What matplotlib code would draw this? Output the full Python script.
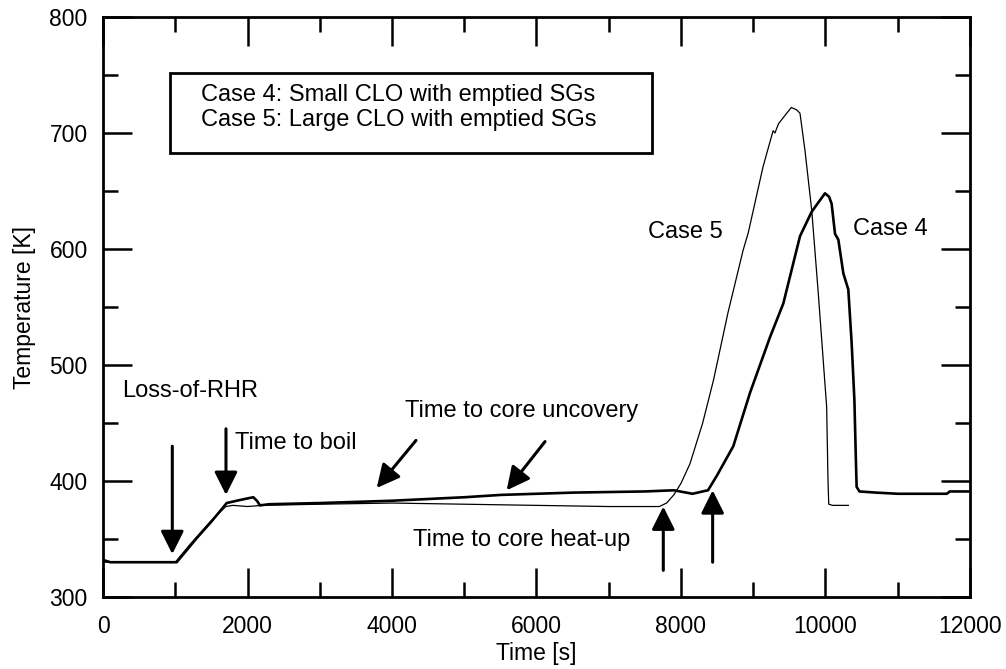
import matplotlib
matplotlib.use("Agg")
import matplotlib.pyplot as plt
from matplotlib.ticker import MultipleLocator
from matplotlib.patches import Rectangle

plt.rcParams['font.family'] = ['Liberation Sans', 'DejaVu Sans']

# Case 4: Small CLO with emptied SGs (thick line)
t_case4 = [0, 100, 500, 1020, 1300, 1500, 1712, 1850, 2000, 2080, 2130, 2173, 2300,
           3000, 4000, 5000, 5500, 6500, 7500, 7900, 8160, 8300, 8374, 8500, 8724,
           8955, 9232, 9416, 9647, 9808, 9900, 9993, 10050, 10085, 10132, 10178,
           10247, 10316, 10362, 10400, 10420, 10431, 10470, 10700, 11000, 11300,
           11500, 11680, 11720, 12000]
T_case4 = [332, 330, 330, 330, 351, 365, 381, 383, 385, 386, 383, 379, 380,
           381, 383, 386, 388, 390, 391, 392, 389, 391, 392, 405, 430,
           476, 524, 553, 611, 632, 640, 648, 645, 639, 613, 608,
           579, 565, 519, 470, 420, 395, 391, 390, 389, 389,
           389, 389, 391, 391]

# Case 5: Large CLO with emptied SGs (thin line)
t_case5 = [0, 500, 1000, 1200, 1500, 1700, 1800, 2000, 2200, 3000, 4000, 5000,
           6000, 7000, 7700, 7800, 7900, 8000, 8125, 8300, 8450, 8650, 8860, 8931,
           9136, 9275, 9300, 9350, 9450, 9527, 9600, 9647, 9716, 9810, 9900, 10016,
           10035, 10045, 10100, 10316]
T_case5 = [330, 330, 330, 345, 366, 378, 379, 378, 379, 380, 381, 380,
           379, 378, 378, 381, 388, 398, 415, 450, 487, 545, 599, 614,
           671, 702, 700, 708, 716, 722, 720, 717, 685, 633, 562, 464,
           400, 380, 379, 379]

legend_lines = ["Case 4: Small CLO with emptied SGs",
                "Case 5: Large CLO with emptied SGs"]

fig = plt.figure(figsize=(10.06, 6.69), dpi=100)
ax = fig.add_axes([0.1024, 0.1076, 0.8618, 0.867])

ax.plot(t_case4, T_case4, color='black', lw=1.9)
ax.plot(t_case5, T_case5, color='black', lw=0.9)

ax.set_xlim(0, 12000)
ax.set_ylim(300, 800)
ax.xaxis.set_major_locator(MultipleLocator(2000))
ax.xaxis.set_minor_locator(MultipleLocator(1000))
ax.yaxis.set_major_locator(MultipleLocator(100))
ax.yaxis.set_minor_locator(MultipleLocator(50))
ax.tick_params(which='both', direction='in', top=True, right=True, width=1.8,
               labelsize=16.5)
ax.tick_params(axis='x', which='both', pad=13)
ax.tick_params(axis='y', which='both', pad=11)
ax.tick_params(which='major', length=21)
ax.tick_params(which='minor', length=11)
for s in ax.spines.values():
    s.set_linewidth(2)

ax.set_xlabel("Time [s]", fontsize=16.5, labelpad=3)
ax.set_ylabel("Temperature [K]", fontsize=16.5, labelpad=10)

# legend-like box
ax.add_patch(Rectangle((927, 682.5), 7594 - 927, 751.5 - 682.5, fill=False,
                       lw=2, ec='black'))
fs = 17
ax.text(1360, 732.5, legend_lines[0], fontsize=fs, va='center', ha='left')
ax.text(1360, 711.5, legend_lines[1], fontsize=fs, va='center', ha='left')

ax.text(270, 478, "Loss-of-RHR", fontsize=fs, va='center', ha='left')
ax.text(1830, 433, "Time to boil", fontsize=fs, va='center', ha='left')
ax.text(4180, 460, "Time to core uncovery", fontsize=fs, va='center', ha='left')
ax.text(4290, 349, "Time to core heat-up", fontsize=fs, va='center', ha='left')
ax.text(7545, 615, "Case 5", fontsize=fs, va='center', ha='left')
ax.text(10385, 617, "Case 4", fontsize=fs, va='center', ha='left')

ap = dict(arrowstyle='-|>,head_length=1.0,head_width=0.5', lw=2.2, color='black',
          mutation_scale=14, shrinkA=0, shrinkB=0)
arrows = [((959, 430), (959, 337)),
          ((1702, 445), (1702, 388)),
          ((4332, 435), (3788, 394)),
          ((6118, 434), (5587, 392)),
          ((7755, 323), (7755, 378)),
          ((8438, 330), (8438, 392))]
for start, end in arrows:
    ax.annotate('', xy=end, xytext=start, arrowprops=ap)

fig.savefig("out.png", dpi=100)
